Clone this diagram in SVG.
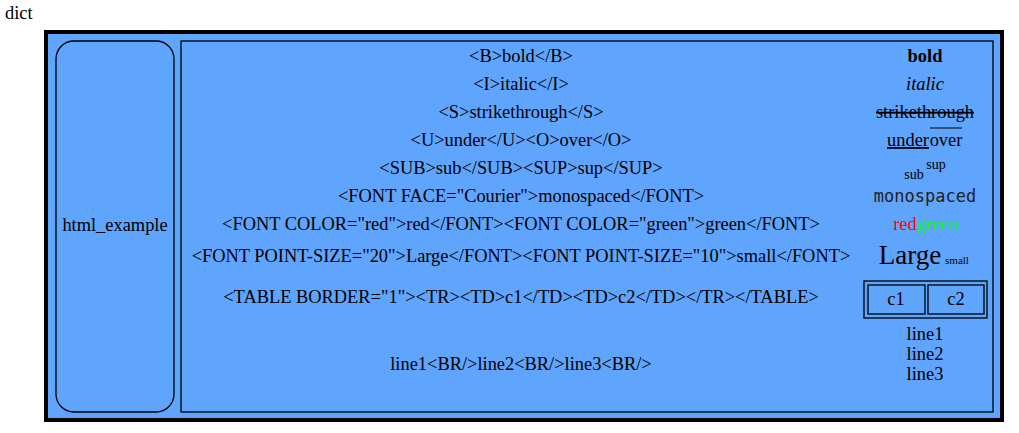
<svg xmlns="http://www.w3.org/2000/svg" width="1019" height="433" viewBox="0 0 1019 433">
<style>
text{font-family:"Liberation Serif",serif;font-size:18.4px;text-anchor:middle;fill:#000}
.b{fill:#5fa4fd;stroke:#000}
</style>
<rect width="1019" height="433" fill="#fff"/>
<text x="5" y="19" style="text-anchor:start">dict</text>
<g id="html_example">
<rect class="b" x="46" y="32" width="956" height="388" stroke-width="4"/>
<rect class="b" x="56" y="41" width="118" height="371" rx="18" stroke-width="1.3"/>
<text x="115" y="231">html_example</text>
<rect class="b" x="181" y="41" width="812" height="371" stroke-width="1.3"/>
<g id="labels">
<text x="521" y="62">&lt;B&gt;bold&lt;/B&gt;</text>
<text x="521" y="90">&lt;I&gt;italic&lt;/I&gt;</text>
<text x="521" y="118">&lt;S&gt;strikethrough&lt;/S&gt;</text>
<text x="521" y="146">&lt;U&gt;under&lt;/U&gt;&lt;O&gt;over&lt;/O&gt;</text>
<text x="521" y="174">&lt;SUB&gt;sub&lt;/SUB&gt;&lt;SUP&gt;sup&lt;/SUP&gt;</text>
<text x="521" y="202">&lt;FONT FACE="Courier"&gt;monospaced&lt;/FONT&gt;</text>
<text x="521" y="230">&lt;FONT COLOR="red"&gt;red&lt;/FONT&gt;&lt;FONT COLOR="green"&gt;green&lt;/FONT&gt;</text>
<text x="521" y="262">&lt;FONT POINT-SIZE="20"&gt;Large&lt;/FONT&gt;&lt;FONT POINT-SIZE="10"&gt;small&lt;/FONT&gt;</text>
<text x="521" y="303">&lt;TABLE BORDER="1"&gt;&lt;TR&gt;&lt;TD&gt;c1&lt;/TD&gt;&lt;TD&gt;c2&lt;/TD&gt;&lt;/TR&gt;&lt;/TABLE&gt;</text>
<text x="521" y="370">line1&lt;BR/&gt;line2&lt;BR/&gt;line3&lt;BR/&gt;</text>
</g>
<g id="renders">
<text x="925" y="62" style="font-weight:bold">bold</text>
<text x="925" y="90" style="font-style:italic">italic</text>
<text x="925" y="118" style="text-decoration:line-through">strikethrough</text>
<text x="908" y="146" style="text-decoration:underline">under</text>
<line x1="930" y1="128" x2="962" y2="128" stroke="#000" stroke-width="1"/>
<text x="946" y="146">over</text>
<text x="914" y="179" style="font-size:14px">sub</text>
<text x="936" y="169" style="font-size:14px">sup</text>
<text x="925" y="202" style="font-family:'DejaVu Sans Mono',monospace;font-size:17px;fill:#222">monospaced</text>
<text x="905" y="230" style="fill:#f00">red</text>
<text x="938" y="230" style="fill:#0f0">green</text>
<text x="910" y="264" style="font-size:27px">Large</text>
<text x="957" y="264" style="font-size:11px">small</text>
<rect x="864" y="281" width="123" height="37" fill="none" stroke="#000" stroke-width="1.3"/>
<rect x="868" y="285" width="57" height="29" fill="none" stroke="#000" stroke-width="1.3"/>
<rect x="928" y="285" width="56" height="29" fill="none" stroke="#000" stroke-width="1.3"/>
<text x="896" y="305">c1</text>
<text x="956" y="305">c2</text>
<text x="925" y="340">line1</text>
<text x="925" y="360">line2</text>
<text x="925" y="380">line3</text>
</g>
</g>
<g id="connectors"/>
</svg>
